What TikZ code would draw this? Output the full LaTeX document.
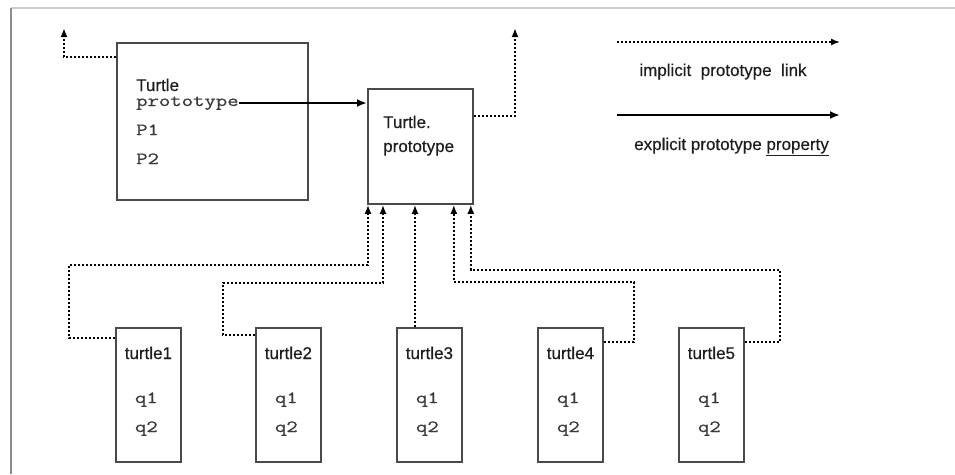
\documentclass[tikz,border=0pt]{standalone}
\usepackage{fontspec}
\setmainfont{Liberation Sans}[FakeBold=0.4]
\newfontfamily\monof[FakeStretch=1.3,FakeBold=0.8]{Latin Modern Mono}
\usetikzlibrary{arrows.meta,calc}
\definecolor{boxgray}{HTML}{4A4A4A}
\definecolor{txt}{HTML}{1E1E1E}
\definecolor{montxt}{HTML}{3A3A3A}
\tikzset{
  box/.style={draw=boxgray, line width=1.8pt, fill=white, inner sep=0pt, anchor=north west},
  lbl/.style={inner sep=0pt, font=\fontsize{17}{17}\selectfont, text=txt},
  mlbl/.style={inner sep=0pt, font=\monof\fontsize{17}{17}\selectfont, text=montxt},
  impl/.style={line width=2pt, dash pattern=on 2.4pt off 1.6pt, -{Latex[length=9pt,width=7pt]}},
  expl/.style={line width=2.8pt, -{Latex[length=10pt,width=8pt]}},
}
\begin{document}
\begin{tikzpicture}[x=1pt,y=-1pt]
\useasboundingbox (0,0) rectangle (955,474);
% frame
\draw[draw=black!20, line width=1.2pt] (11,8) -- (955,8);
\draw[draw=black!45, line width=1.6pt] (11,8) -- (11,474);

% Turtle box
\node[box, minimum width=191pt, minimum height=157pt] (T) at (116,42) {};
\node[lbl, anchor=base west] (tname) at (136,91) {Turtle};
\node[mlbl, anchor=base west] (proto) at (136,106) {prototype};
\node[mlbl, anchor=base west] (p1) at (136,135) {P1};
\node[mlbl, anchor=base west] (p2) at (136,164) {P2};

% Turtle.prototype box
\node[box, minimum width=105pt, minimum height=115pt] (TP) at (367,88) {};
\node[lbl, anchor=base west] (tp1) at (383,128) {Turtle.};
\node[lbl, anchor=base west] (tp2) at (383,152) {prototype};

% explicit link
\draw[expl] (proto.east |- 0,103) -- (TP.west |- 0,103);

% upward implicit links
\coordinate (up1) at (64,28);
\coordinate (up2) at (515,28);
\draw[impl] ([yshift=-15pt]T.north west) -| (up1);
\draw[impl] ([yshift=-28pt]TP.north east) -| (up2);

% legend
\coordinate (la) at (617,42);
\coordinate (lb) at (840,42);
\coordinate (lc) at (617,115);
\coordinate (ld) at (840,115);
\draw[impl, line width=1.5pt] (la) -- (lb);
\draw[expl] (lc) -- (ld);
\node[lbl, anchor=base] (limp) at (723,76) {implicit\ \ prototype\ \ link};
\node[lbl, anchor=base west] (lexp) at (634,150) {explicit prototype \underline{property}};

% turtle instances
\foreach \i/\x in {1/115,2/255,3/396,4/537,5/678}{
  \node[box, minimum width=65pt, minimum height=134pt] (t\i) at (\x,327) {};
  \node[lbl, anchor=base] (n\i) at ($(t\i.north)+(0,32)$) {turtle\i};
  \node[mlbl, anchor=base] (qa\i) at ($(t\i.north)+(-2,76)$) {q1};
  \node[mlbl, anchor=base] (qb\i) at ($(t\i.north)+(-2,105)$) {q2};
}

% instance links to Turtle.prototype
\coordinate (c1) at (69,265);
\coordinate (c2) at (223,283);
\coordinate (c4) at (634,282);
\coordinate (c5) at (780,270);
\draw[impl] ([yshift=-11pt]t1.north west) -| (c1) -| ([xshift=1pt]TP.south west);
\draw[impl] ([yshift=-8pt]t2.north west) -| (c2) -| ([xshift=16pt]TP.south west);
\draw[impl] ([xshift=19pt]t3.north west) -- ([xshift=48pt]TP.south west);
\draw[impl] ([yshift=-15pt]t4.north east) -| (c4) -| ([xshift=-20pt]TP.south east);
\draw[impl] ([yshift=-15pt]t5.north east) -| (c5) -| ([xshift=-3pt]TP.south east);
\end{tikzpicture}
\end{document}
